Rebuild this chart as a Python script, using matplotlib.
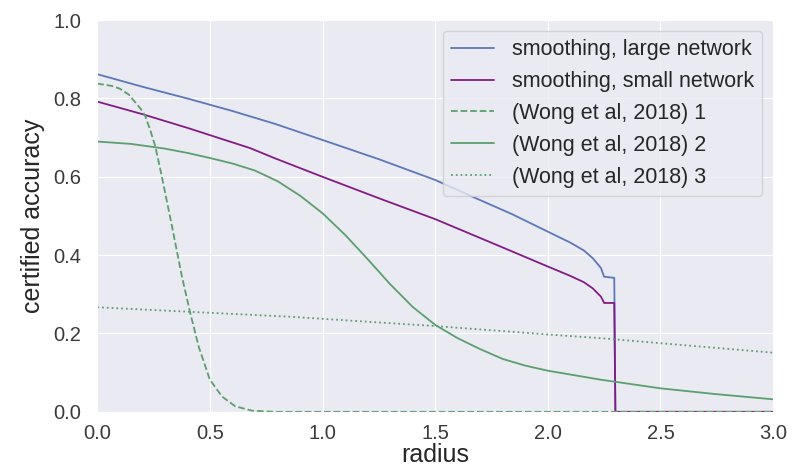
import matplotlib
matplotlib.use("Agg")
import matplotlib.pyplot as plt
import seaborn as sns

sns.set_style("darkgrid")
plt.rcParams['font.family'] = ['Liberation Sans', 'DejaVu Sans']

# smoothing, large network
r_large = [0.0, 0.2, 0.4, 0.6, 0.79, 1.0, 1.25, 1.5, 1.69, 1.84, 2.0, 2.1, 2.16, 2.2, 2.236, 2.25, 2.295, 2.30, 3.0]
acc_large = [0.862, 0.83, 0.80, 0.768, 0.735, 0.694, 0.645, 0.592, 0.543, 0.505, 0.46, 0.432, 0.412, 0.392, 0.367, 0.345, 0.342, 0.0, 0.0]

# smoothing, small network
r_small = [0.0, 0.2, 0.4, 0.68, 0.79, 1.0, 1.27, 1.5, 1.79, 2.0, 2.1, 2.16, 2.2, 2.236, 2.25, 2.295, 2.30, 3.0]
acc_small = [0.792, 0.76, 0.725, 0.673, 0.647, 0.60, 0.541, 0.492, 0.422, 0.371, 0.347, 0.331, 0.315, 0.294, 0.278, 0.278, 0.0, 0.0]

# (Wong et al, 2018) 1
r_w1 = [0.0, 0.065, 0.1, 0.14, 0.169, 0.195, 0.213, 0.235, 0.258, 0.287, 0.332, 0.376, 0.413, 0.45, 0.50, 0.554, 0.613, 0.687, 0.79, 3.0]
acc_w1 = [0.838, 0.832, 0.825, 0.81, 0.79, 0.772, 0.755, 0.72, 0.677, 0.60, 0.473, 0.345, 0.252, 0.167, 0.082, 0.039, 0.014, 0.003, 0.0, 0.0]

# (Wong et al, 2018) 2
r_w2 = [0.0, 0.15, 0.3, 0.4, 0.5, 0.6, 0.7, 0.8, 0.9, 1.0, 1.1, 1.2, 1.3, 1.4, 1.5, 1.6, 1.7, 1.8, 1.9, 2.0, 2.236, 2.5, 2.75, 3.0]
acc_w2 = [0.69, 0.684, 0.672, 0.661, 0.648, 0.634, 0.616, 0.589, 0.552, 0.507, 0.452, 0.39, 0.326, 0.268, 0.222, 0.188, 0.16, 0.135, 0.118, 0.105, 0.082, 0.06, 0.045, 0.032]

# (Wong et al, 2018) 3
r_w3 = [0.0, 0.85, 1.5, 2.06, 2.236, 3.0]
acc_w3 = [0.267, 0.243, 0.219, 0.195, 0.188, 0.151]

fig = plt.figure(figsize=(7.97, 4.68), dpi=100)
ax = fig.add_axes([0.122, 0.12, 0.848, 0.837])

green = '#5c9e6e'
ax.plot(r_large, acc_large, color='#5b78b8', lw=1.3, label='smoothing, large network')
ax.plot(r_small, acc_small, color='#821c84', lw=1.3, label='smoothing, small network')
ax.plot(r_w1, acc_w1, color=green, lw=1.3, ls='--', label='(Wong et al, 2018) 1')
ax.plot(r_w2, acc_w2, color=green, lw=1.3, label='(Wong et al, 2018) 2')
ax.plot(r_w3, acc_w3, color=green, lw=1.3, ls=':', label='(Wong et al, 2018) 3')

ax.set_xlim(0, 3)
ax.set_ylim(0, 1)
ax.set_xlabel('radius', fontsize=18, labelpad=0)
ax.set_ylabel('certified accuracy', fontsize=18, labelpad=6)
ax.tick_params(axis='y', labelsize=14.5, pad=8)
ax.tick_params(axis='x', labelsize=14.5, pad=5)
for t in ax.get_xticklabels() + ax.get_yticklabels():
    t.set_color('#3a3a3a')
ax.legend(loc='upper right', fontsize=15.5, frameon=True)

fig.savefig('out.png', dpi=100)
